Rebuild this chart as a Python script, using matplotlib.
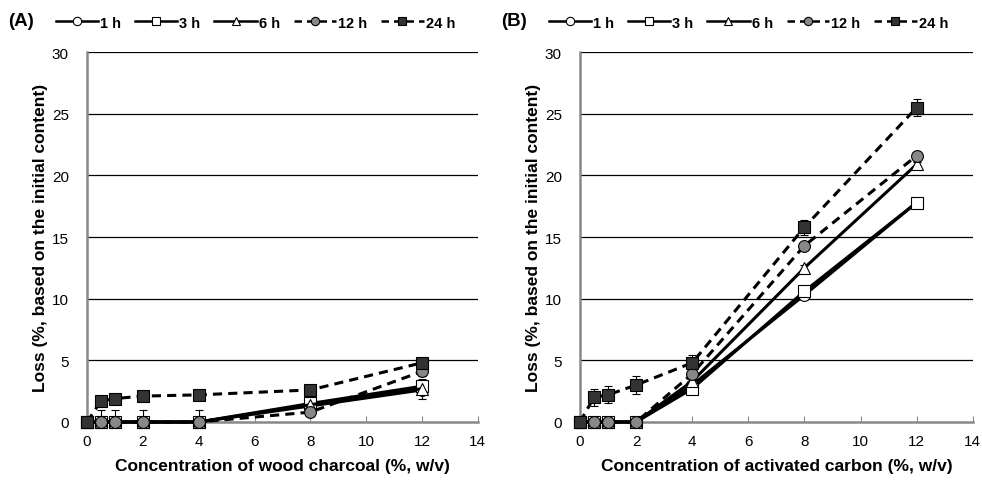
import matplotlib.pyplot as plt
import numpy as np

plt.rcParams["font.family"] = ["Liberation Sans", "DejaVu Sans"]

# Concentrations (%, w/v)
conc = [0, 0.5, 1, 2, 4, 8, 12]
times = ["1 h", "3 h", "6 h", "12 h", "24 h"]

# Panel A: wood charcoal, loss (%)
wood_1h = [0, 0, 0, 0, 0, 1.3, 2.6]
wood_3h = [0, 0, 0, 0, 0, 1.5, 2.9]
wood_6h = [0, 0, 0, 0, 0, 1.4, 2.7]
wood_12h = [0, 0, 0, 0, 0, 0.8, 4.1]
wood_24h = [0, 1.7, 1.9, 2.1, 2.2, 2.6, 4.8]
wood_err_1h = [0, 0, 0, 0, 0, 0.2, 0.2]
wood_err_3h = [0, 0, 0, 0, 0, 0.3, 0.5]
wood_err_6h = [0, 0, 0, 0, 0, 0.2, 0.8]
wood_err_12h = [0, 1.0, 1.0, 1.0, 1.0, 0.3, 0.4]
wood_err_24h = [0, 0.2, 0.2, 0.2, 0.2, 0.2, 0.3]

# Panel B: activated carbon, loss (%)
act_1h = [0, 0, 0, 0, 3.0, 10.3, 17.8]
act_3h = [0, 0, 0, 0, 2.7, 10.6, 17.8]
act_6h = [0, 0, 0, 0, 3.3, 12.5, 20.9]
act_12h = [0, 0, 0, 0, 3.9, 14.3, 21.6]
act_24h = [0, 2.0, 2.2, 3.0, 4.8, 15.8, 25.5]
act_err_1h = [0, 0, 0, 0, 0.2, 0.2, 0.2]
act_err_3h = [0, 0, 0, 0, 0.2, 0.2, 0.2]
act_err_6h = [0, 0, 0, 0, 0.2, 0.2, 0.2]
act_err_12h = [0, 0, 0, 0, 0.2, 0.3, 0.3]
act_err_24h = [0, 0.7, 0.7, 0.7, 0.6, 0.6, 0.7]

# marker, face colour, line style per time point
styles = [
    ("o", "white", "-"),
    ("s", "white", "-"),
    ("^", "white", "-"),
    ("o", "#888888", "--"),
    ("s", "#333333", "--"),
]

panels = [
    ("(A)", "Concentration of wood charcoal (%, w/v)",
     [wood_1h, wood_3h, wood_6h, wood_12h, wood_24h],
     [wood_err_1h, wood_err_3h, wood_err_6h, wood_err_12h, wood_err_24h]),
    ("(B)", "Concentration of activated carbon (%, w/v)",
     [act_1h, act_3h, act_6h, act_12h, act_24h],
     [act_err_1h, act_err_3h, act_err_6h, act_err_12h, act_err_24h]),
]

fig = plt.figure(figsize=(9.82, 4.81), dpi=100)
axes_rects = [[0.0886, 0.1206, 0.398, 0.769], [0.5906, 0.1206, 0.400, 0.769]]

for rect, (tag, xlabel, series, errors) in zip(axes_rects, panels):
    ax = fig.add_axes(rect)
    for y in range(5, 31, 5):
        ax.axhline(y, color="black", linewidth=0.9, zorder=1)

    handles = []
    for label, vals, err, (mk, fc, ls) in zip(times, series, errors, styles):
        ax.errorbar(conc, vals, yerr=err, fmt="none", ecolor="black",
                    elinewidth=0.8, capsize=3, capthick=0.8, zorder=2)
        (h,) = ax.plot(conc, vals, linestyle=ls, color="black", linewidth=2.2,
                       marker=mk, markersize=8.5, markerfacecolor=fc,
                       markeredgecolor="black", markeredgewidth=0.8,
                       dashes=(3, 2) if ls == "--" else (None, None),
                       label=label, zorder=3, clip_on=False)
        handles.append(h)

    ax.set_xlim(0, 14)
    ax.set_ylim(0, 30)
    ax.set_xticks(range(0, 15, 2))
    ax.set_yticks(range(0, 31, 5))
    ax.tick_params(axis="x", direction="in", length=4, color="#888888",
                   labelsize=11, pad=9)
    ax.tick_params(axis="y", length=0, labelsize=11, pad=13)
    for s in ["top", "right"]:
        ax.spines[s].set_visible(False)
    for s in ["left", "bottom"]:
        ax.spines[s].set_color("#888888")
        ax.spines[s].set_linewidth(1.8)
    ax.set_xlabel(xlabel, fontsize=12.5, fontweight="bold", labelpad=7)
    ax.set_ylabel("Loss (%, based on the initial content)", fontsize=12.5,
                  fontweight="bold", labelpad=3)

    x0 = rect[0]
    fig.text(x0 - 0.08, 0.955, tag, fontsize=13.5, fontweight="bold",
             ha="left", va="center")
    leg = ax.legend(handles=handles, loc="center left",
                    bbox_to_anchor=(x0 - 0.032, 0.951),
                    bbox_transform=fig.transFigure, ncol=5, frameon=False,
                    handlelength=2.9, handletextpad=0.15, columnspacing=0.95,
                    borderpad=0, borderaxespad=0,
                    prop={"weight": "bold", "size": 10.5})
    for lh in leg.get_lines():
        lh.set_markersize(6)
        lh.set_linewidth(1.8)

fig.savefig("out.png", dpi=100)
